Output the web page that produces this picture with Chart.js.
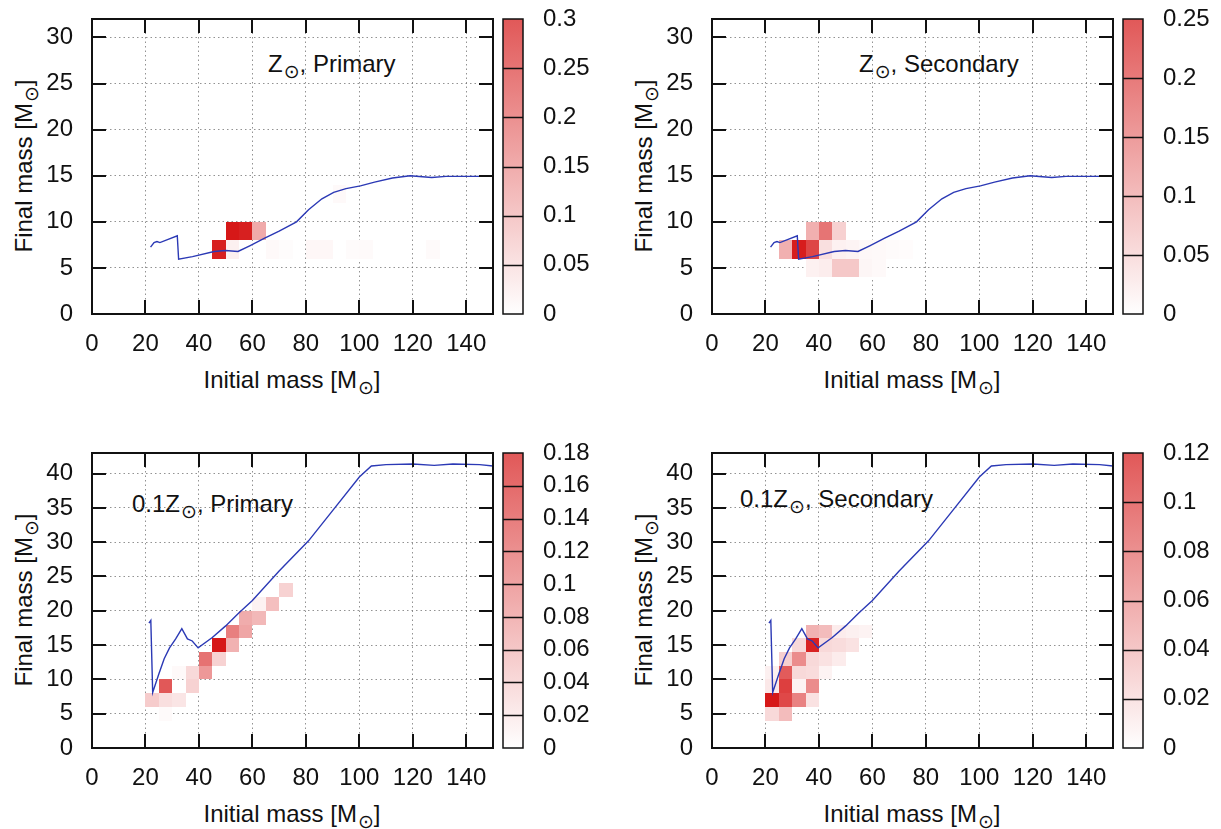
<!DOCTYPE html>
<html>
<head>
<meta charset="utf-8">
<script src="https://cdn.jsdelivr.net/npm/chart.js@4.4.1/dist/chart.umd.min.js"></script>
<style>
  body { margin: 0; background: #fff; width: 1221px; height: 829px; position: relative; overflow: hidden;
         font-family: "Liberation Sans", Arial, Helvetica, sans-serif; color: #111; }
  canvas { position: absolute; }
  .lbl { position: absolute; font-size: 24px; line-height: 24px; white-space: nowrap; }
  .sun { font-family: "DejaVu Sans", sans-serif; font-size: 19px; position: relative; top: 6px; margin-left: 1px; }
  .xtitle { transform: translateX(-50%); }
  .ytitle { transform: translate(-50%, -50%) rotate(-90deg); }
</style>
</head>
<body>

<div class="lbl" style="left:268px;top:52px">Z<span class="sun">⊙</span>, Primary</div>
<div class="lbl" style="left:859px;top:52px">Z<span class="sun">⊙</span>, Secondary</div>
<div class="lbl" style="left:132px;top:492px">0.1Z<span class="sun">⊙</span>, Primary</div>
<div class="lbl" style="left:740px;top:487px">0.1Z<span class="sun">⊙</span>, Secondary</div>

<div class="lbl xtitle" style="left:292px;top:368px">Initial mass [M<span class="sun">⊙</span>]</div>
<div class="lbl xtitle" style="left:912px;top:368px">Initial mass [M<span class="sun">⊙</span>]</div>
<div class="lbl xtitle" style="left:292px;top:802px">Initial mass [M<span class="sun">⊙</span>]</div>
<div class="lbl xtitle" style="left:912px;top:802px">Initial mass [M<span class="sun">⊙</span>]</div>

<div class="lbl ytitle" style="left:24px;top:166px">Final mass [M<span class="sun">⊙</span>]</div>
<div class="lbl ytitle" style="left:644px;top:166px">Final mass [M<span class="sun">⊙</span>]</div>
<div class="lbl ytitle" style="left:24px;top:600px">Final mass [M<span class="sun">⊙</span>]</div>
<div class="lbl ytitle" style="left:644px;top:600px">Final mass [M<span class="sun">⊙</span>]</div>

<script>
// ---- ticks ----
const xTicks = [0, 20, 40, 60, 80, 100, 120, 140];
const yTicksZsun = [0, 5, 10, 15, 20, 25, 30];
const yTicksLowZ = [0, 5, 10, 15, 20, 25, 30, 35, 40];
const cbTicksZsunPrimary = [0, 0.05, 0.1, 0.15, 0.2, 0.25, 0.3];
const cbTicksZsunSecondary = [0, 0.05, 0.1, 0.15, 0.2, 0.25];
const cbTicksLowZPrimary = [0, 0.02, 0.04, 0.06, 0.08, 0.1, 0.12, 0.14, 0.16, 0.18];
const cbTicksLowZSecondary = [0, 0.02, 0.04, 0.06, 0.08, 0.1, 0.12];

// bin size of the 2D histogram (initial mass, final mass)
const binW = 5;
const binH = 2;

// ---- single star relation (blue line) ----
const lineZsunX = [21.9, 23.2, 24.3, 25.4, 31.9, 32.4, 37.6, 45.7, 49.9, 54.6, 59, 64.4, 70, 76.5, 81, 86, 90.4, 95, 100.4, 105.7, 112.4, 119, 127.1, 132.4, 139, 150];
const lineZsunY = [7.25, 7.75, 7.86, 7.75, 8.48, 5.94, 6.23, 6.78, 6.88, 6.78, 7.4, 8.2, 9.0, 10.0, 11.3, 12.5, 13.2, 13.6, 13.9, 14.3, 14.75, 15.0, 14.8, 14.93, 14.93, 14.93];
const lineLowZX = [21.3, 22.0, 22.7, 25, 27, 29, 31.3, 33.6, 35.7, 37.5, 39.7, 45, 50, 55, 60, 70, 81, 90, 100, 104.5, 110, 120, 128, 135, 145, 150];
const lineLowZY = [18.2, 18.6, 8.1, 10.8, 13, 14.6, 15.9, 17.4, 15.9, 15.6, 14.6, 16.1, 17.8, 19.7, 21.5, 25.8, 30.2, 34.6, 39.5, 41.1, 41.3, 41.4, 41.2, 41.4, 41.3, 41.1];

// ---- histogram cells: [initial mass bin start, final mass bin start, fraction] ----
const cellsZsunPrimary = [
  [45, 6, 0.29], [50, 6, 0.02], [50, 8, 0.3], [55, 8, 0.29], [60, 8, 0.11],
  [65, 6, 0.008], [70, 6, 0.004], [80, 6, 0.01], [85, 6, 0.01], [95, 6, 0.005],
  [100, 6, 0.007], [125, 6, 0.006], [90, 12, 0.008]
];
const cellsZsunSecondary = [
  [25, 6, 0.085], [30, 6, 0.245], [35, 6, 0.2], [40, 6, 0.035], [45, 6, 0.015],
  [50, 6, 0.012], [55, 6, 0.008], [60, 6, 0.006], [65, 6, 0.004], [70, 6, 0.003],
  [35, 8, 0.085], [40, 8, 0.15], [45, 8, 0.05],
  [35, 4, 0.015], [40, 4, 0.02], [45, 4, 0.06], [50, 4, 0.06], [55, 4, 0.01], [60, 4, 0.006]
];
const cellsLowZPrimary = [
  [25, 4, 0.004], [20, 6, 0.04], [25, 6, 0.025], [30, 6, 0.02], [25, 8, 0.13],
  [35, 8, 0.035], [30, 10, 0.005], [35, 10, 0.03], [40, 10, 0.08], [40, 12, 0.11],
  [45, 12, 0.035], [45, 14, 0.18], [50, 14, 0.06], [50, 16, 0.1], [55, 16, 0.07],
  [55, 18, 0.065], [60, 18, 0.055], [60, 20, 0.01], [65, 20, 0.05], [70, 22, 0.035]
];
const cellsLowZSecondary = [
  [20, 4, 0.02], [25, 4, 0.035],
  [20, 6, 0.12], [25, 6, 0.095], [30, 6, 0.065], [35, 6, 0.015],
  [20, 8, 0.012], [25, 8, 0.1], [30, 8, 0.006], [35, 8, 0.06],
  [20, 10, 0.008], [25, 10, 0.085], [30, 10, 0.02], [35, 10, 0.018], [40, 10, 0.006],
  [25, 12, 0.025], [30, 12, 0.06], [35, 12, 0.02], [40, 12, 0.015], [45, 12, 0.01],
  [30, 14, 0.02], [35, 14, 0.115], [40, 14, 0.02], [45, 14, 0.018], [50, 14, 0.015],
  [35, 16, 0.04], [40, 16, 0.035], [45, 16, 0.01], [50, 16, 0.008], [55, 16, 0.006]
];

const FONT = '"Liberation Sans", Arial, Helvetica, sans-serif';
Chart.defaults.font.family = FONT;
Chart.defaults.color = '#111';

/** white -> red palette */
function cellColor(t) {
  t = Math.max(0, Math.min(1, t));
  const r = Math.round(255 - 41 * t);
  const gb = Math.round(255 - 231 * t);
  return `rgb(${r},${gb},${gb})`;
}

/**
 * Draws histogram cells, gnuplot-like frame with inner ticks, and the colour box
 */
const heatmapPlugin = {
  id: 'heatmap',
  beforeDatasetsDraw(chart, args, opts) {
    const { ctx, chartArea, scales: { x, y } } = chart;
    ctx.save();
    ctx.beginPath();
    ctx.rect(chartArea.left, chartArea.top, chartArea.width, chartArea.height);
    ctx.clip();
    opts.cells.forEach(([cx, cy, v]) => {
      const x0 = Math.round(x.getPixelForValue(cx));
      const x1 = Math.round(x.getPixelForValue(cx + binW));
      const y0 = Math.round(y.getPixelForValue(cy));
      const y1 = Math.round(y.getPixelForValue(cy + binH));
      ctx.fillStyle = cellColor(v / opts.max);
      ctx.fillRect(x0, y1, x1 - x0, y0 - y1);
    });
    ctx.restore();
  },
  afterDatasetsDraw(chart) {
    const { ctx, chartArea: a, scales: { x, y } } = chart;
    const tl = 14;
    ctx.save();
    ctx.strokeStyle = '#111';
    ctx.lineWidth = 2;
    ctx.beginPath();
    x.ticks.forEach(t => {
      if (t.value <= x.min || t.value >= x.max) return;
      const px = Math.round(x.getPixelForValue(t.value));
      ctx.moveTo(px, a.bottom); ctx.lineTo(px, a.bottom - tl);
      ctx.moveTo(px, a.top); ctx.lineTo(px, a.top + tl);
    });
    y.ticks.forEach(t => {
      if (t.value <= y.min || t.value >= y.max) return;
      const py = Math.round(y.getPixelForValue(t.value));
      ctx.moveTo(a.left, py); ctx.lineTo(a.left + tl, py);
      ctx.moveTo(a.right, py); ctx.lineTo(a.right - tl, py);
    });
    ctx.stroke();
    ctx.strokeRect(a.left, a.top, a.right - a.left, a.bottom - a.top);
    ctx.restore();
  },
  afterDraw(chart, args, opts) {
    const { ctx } = chart;
    const cb = chart.scales.cb;
    const left = cb.left + 10, w = 20;
    const top = cb.getPixelForValue(opts.max);
    const bottom = cb.getPixelForValue(0);
    ctx.save();
    const g = ctx.createLinearGradient(0, bottom, 0, top);
    g.addColorStop(0, cellColor(0));
    g.addColorStop(0.5, cellColor(0.5));
    g.addColorStop(1, cellColor(1));
    ctx.globalAlpha = 0.72;
    ctx.fillStyle = g;
    ctx.fillRect(left, top, w, bottom - top);
    ctx.globalAlpha = 1;
    ctx.strokeStyle = '#111';
    ctx.lineWidth = 1.5;
    ctx.beginPath();
    cb.ticks.forEach(t => {
      if (t.value <= 0 || t.value >= opts.max) return;
      const py = Math.round(cb.getPixelForValue(t.value)) + 0.5;
      ctx.moveTo(left, py); ctx.lineTo(left + w, py);
    });
    ctx.stroke();
    ctx.strokeRect(left, top, w, bottom - top);
    ctx.restore();
  }
};

const panels = [
  { left: 0,   top: 0,   height: 410, yMax: 32, yTicks: yTicksZsun, cbMax: 0.3,  cbTicks: cbTicksZsunPrimary,   cells: cellsZsunPrimary,   lx: lineZsunX, ly: lineZsunY },
  { left: 620, top: 0,   height: 410, yMax: 32, yTicks: yTicksZsun, cbMax: 0.25, cbTicks: cbTicksZsunSecondary, cells: cellsZsunSecondary, lx: lineZsunX, ly: lineZsunY },
  { left: 0,   top: 434, height: 395, yMax: 43, yTicks: yTicksLowZ, cbMax: 0.18, cbTicks: cbTicksLowZPrimary,   cells: cellsLowZPrimary,   lx: lineLowZX, ly: lineLowZY },
  { left: 620, top: 434, height: 395, yMax: 43, yTicks: yTicksLowZ, cbMax: 0.12, cbTicks: cbTicksLowZSecondary, cells: cellsLowZSecondary, lx: lineLowZX, ly: lineLowZY }
];

const W = 600;
const PAD_TOP = 19;
const PLOT_H = 295;

// keep chart area fixed: no label overhang padding
function noVPad(s) { s.paddingTop = 0; s.paddingBottom = 0; }

panels.forEach(p => {
  const cv = document.createElement('canvas');
  cv.width = W; cv.height = p.height;
  cv.style.left = p.left + 'px'; cv.style.top = p.top + 'px';
  cv.style.width = W + 'px'; cv.style.height = p.height + 'px';
  document.body.appendChild(cv);

  const xHeight = p.height - PAD_TOP - PLOT_H;
  const tickFont = { family: FONT, size: 24 };
  const gridOpts = { color: 'rgba(110,110,110,0.75)', lineWidth: 1, drawTicks: false };

  new Chart(cv, {
    type: 'line',
    data: {
      datasets: [{
        data: p.lx.map((v, i) => ({ x: v, y: p.ly[i] })),
        borderColor: '#2b39b5',
        borderWidth: 1.4,
        pointRadius: 0,
        tension: 0,
        fill: false
      }]
    },
    options: {
      responsive: false,
      animation: false,
      devicePixelRatio: 1,
      layout: { padding: { top: PAD_TOP, left: 0, right: 0, bottom: 0 } },
      plugins: {
        legend: { display: false },
        tooltip: { enabled: false },
        heatmap: { cells: p.cells, max: p.cbMax }
      },
      scales: {
        x: {
          type: 'linear', position: 'bottom', min: 0, max: 150,
          afterBuildTicks: s => { s.ticks = xTicks.map(v => ({ value: v })); },
          afterFit: s => { s.height = xHeight; s.paddingLeft = 0; s.paddingRight = 0; },
          ticks: { font: tickFont, padding: 16, maxRotation: 0, autoSkip: false, callback: v => String(v) },
          grid: gridOpts,
          border: { display: false, dash: [1.5, 3] }
        },
        y: {
          type: 'linear', position: 'left', min: 0, max: p.yMax,
          afterBuildTicks: s => { s.ticks = p.yTicks.map(v => ({ value: v })); },
          afterFit: s => { s.width = 92; noVPad(s); },
          ticks: { font: tickFont, padding: 19, autoSkip: false, callback: v => String(v) },
          grid: gridOpts,
          border: { display: false, dash: [1.5, 3] }
        },
        cb: {
          type: 'linear', position: 'right', min: 0, max: p.cbMax,
          afterBuildTicks: s => { s.ticks = p.cbTicks.map(v => ({ value: v })); },
          afterFit: s => { s.width = W - 493; noVPad(s); },
          ticks: { font: tickFont, padding: 50, autoSkip: false, callback: v => String(v) },
          grid: { display: false, drawTicks: false },
          border: { display: false }
        }
      }
    },
    plugins: [heatmapPlugin]
  });
});
</script>
</body>
</html>
